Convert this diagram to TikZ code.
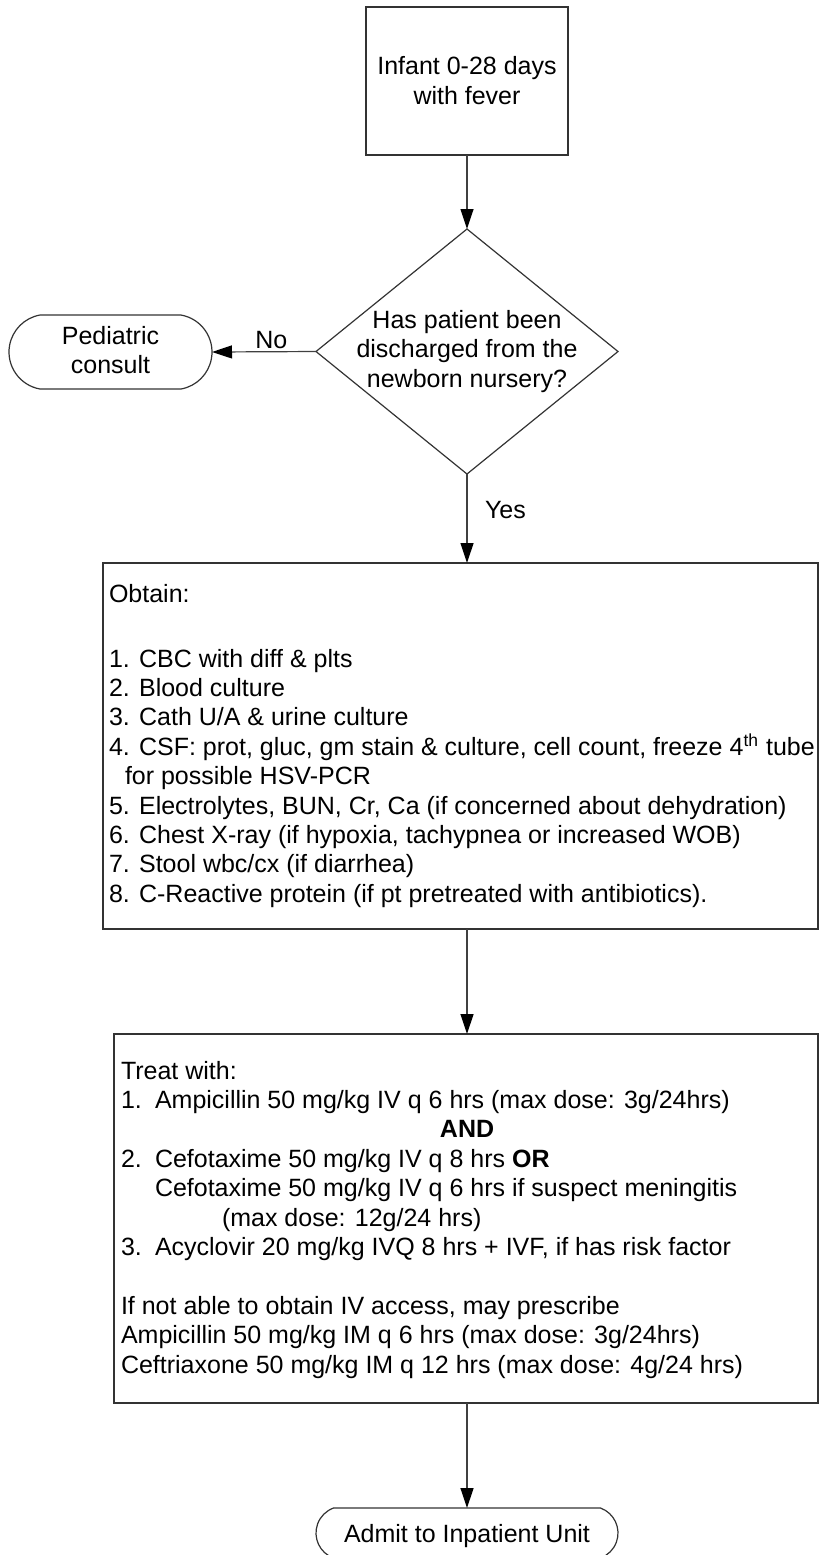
\documentclass[tikz,border=0pt]{standalone}
\usepackage{fontspec}
\setmainfont{Liberation Sans}
\usetikzlibrary{shapes.geometric,shapes.misc,arrows.meta}
\newcommand\itm[1]{\makebox[17pt][l]{#1}}
\begin{document}
\begin{tikzpicture}[x=0.5pt,y=-0.5pt,
  every node/.style={inner sep=0pt, outer sep=0pt},
  line/.style={draw=black!80, line width=0.6pt},
  box/.style={line, rectangle},
  term/.style={line, rounded rectangle},
  dia/.style={line, diamond},
  txt/.style={font=\fontsize{12.5}{14.7}\selectfont, align=center},
  ltxt/.style={font=\fontsize{12.5}{14.7}\selectfont, align=left, anchor=north west},
  arr/.style={draw=black!75, line width=0.6pt, -{Triangle[length=10pt,width=6.5pt,color=black]}},
]
\useasboundingbox (0,0) rectangle (819,1555);

% shapes
\node[box, minimum width=101pt, minimum height=74pt] (start) at (467,81) {};
\node[txt, font=\fontsize{12.5}{15}\selectfont] (starttxt) at (start) {Infant 0-28 days\\with fever};

\node[dia, minimum width=151pt, minimum height=122.5pt] (q) at (467,351.5) {};
\node[txt] (qtxt) at (q) {Has patient been\\discharged from the\\newborn nursery?};

\node[term, rounded rectangle arc length=160, minimum width=101.5pt, minimum height=37pt] (consult) at (110.5,352) {};
\node[txt] (consulttxt) at ([yshift=1pt]consult.center) {Pediatric\\consult};

\node[box, minimum width=357.5pt, minimum height=183pt] (obtain) at (460.5,746) {};
\node[ltxt] (obtaintxt) at (109,584) {Obtain:\\[17.8pt]
1. CBC with diff \& plts\\
2. Blood culture\\
3. Cath U/A \& urine culture\\
4. CSF: prot, gluc, gm stain \& culture, cell count, freeze 4\textsuperscript{th} tube\\
\hspace*{8pt}for possible HSV-PCR\\
5. Electrolytes, BUN, Cr, Ca (if concerned about dehydration)\\
6. Chest X-ray (if hypoxia, tachypnea or increased WOB)\\
7. Stool wbc/cx (if diarrhea)\\
8. C-Reactive protein (if pt pretreated with antibiotics).};

\node[box, minimum width=352pt, minimum height=184.5pt] (treat) at (466,1218.5) {};
\node[ltxt] (treattxt) at (121,1061) {Treat with:\\
\itm{1.}Ampicillin 50 mg/kg IV q 6 hrs (max dose: 3g/24hrs)\\
\hspace*{159.5pt}\textbf{AND}\\
\itm{2.}Cefotaxime 50 mg/kg IV q 8 hrs \textbf{OR}\\
\hspace*{17pt}Cefotaxime 50 mg/kg IV q 6 hrs if suspect meningitis\\
\hspace*{50.5pt}(max dose: 12g/24 hrs)\\
\itm{3.}Acyclovir 20 mg/kg IVQ 8 hrs + IVF, if has risk factor\\[14.7pt]
If not able to obtain IV access, may prescribe\\
Ampicillin 50 mg/kg IM q 6 hrs (max dose: 3g/24hrs)\\
Ceftriaxone 50 mg/kg IM q 12 hrs (max dose: 4g/24 hrs)};

\node[term, rounded rectangle arc length=140, minimum width=151pt, minimum height=25pt] (admit) at (467,1533) {};
\node[txt] (admittxt) at ([yshift=-1.5pt]admit.center) {Admit to Inpatient Unit};

% connectors
\draw[arr] (start) -- (q);
\draw[arr] (q.west) -- node[txt, above=1.5pt, pos=0.43] (no) {No} (consult.east);
\draw[arr] (q.south) -- node[txt, right=9pt, pos=0.4] (yes) {Yes} (q.south |- obtain.north);
\draw[arr] (obtain.south -| q.south) -- (treat.north -| q.south);
\draw[arr] (treat.south -| q.south) -- (admit.north);
\end{tikzpicture}
\end{document}
